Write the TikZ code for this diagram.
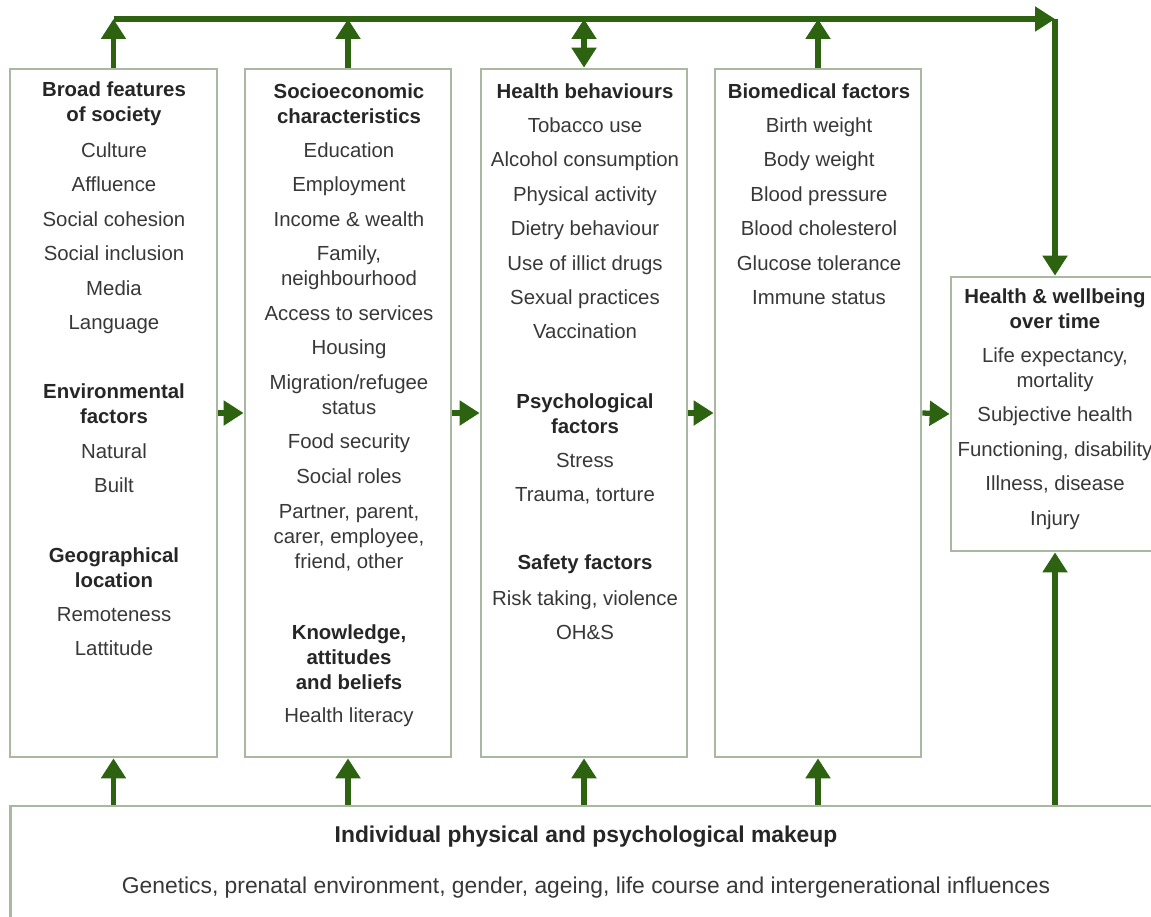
\documentclass[tikz,border=0pt]{standalone}
\usepackage{fontspec}
\setmainfont{Liberation Sans}
\usetikzlibrary{arrows.meta}

\definecolor{flowgreen}{HTML}{2C6210}
\definecolor{panelgrey}{HTML}{A9B9A1}
\definecolor{inktext}{HTML}{383838}

\begin{document}
\begin{tikzpicture}[
        x=0.02cm, y=-0.02cm,
        panel/.style={
            rectangle,
            draw=panelgrey,
            line width=1.6pt,
            inner sep=0pt
        },
        item/.style={
            inner sep=0pt,
            text height=10pt,
            text depth=2pt,
            text=inktext,
            font=\fontsize{11.6}{14.2}\selectfont
        },
        head/.style={
            inner sep=0pt,
            align=center,
            text=black!85,
            font=\fontsize{11.6}{14.2}\selectfont\bfseries
        },
        ptr/.style={
            -{Triangle[width=0.48cm,length=0.4cm]},
            line width=3pt,
            draw=flowgreen
        },
        dptr/.style={
            ptr,
            {Triangle[width=0.48cm,length=0.4cm]}-{Triangle[width=0.48cm,length=0.4cm]}
        }
    ]

    \path[use as bounding box, fill=white] (0,0) rectangle (1151,916);

    % columns
    \node[panel, minimum width=4.14cm, minimum height=13.76cm] (society) at (113.5,413) {};
    \node[panel, minimum width=4.12cm, minimum height=13.76cm] (socio) at (348,413) {};
    \node[panel, minimum width=4.12cm, minimum height=13.76cm] (behav) at (584,413) {};
    \node[panel, minimum width=4.12cm, minimum height=13.76cm] (biomed) at (818,413) {};
    \node[panel, minimum width=4.16cm, minimum height=5.48cm] (wellbeing) at (1055,414) {};
    \node[panel, minimum width=23.2cm, minimum height=2.68cm] (makeup) at (590,873) {};

    % broad features
    \node[head] (broad) at (114,104) {Broad features\\of society};
    \foreach \y/\t in {150/Culture, 184/Affluence, 219/Social cohesion, 253/Social inclusion,
            288/Media, 322/Language, 451/Natural, 485/Built, 614/Remoteness, 648/Lattitude} {
        \node[item] (soc-\y) at (114,\y) {\t};
    }
    \node[head] (env) at (114,404) {Environmental\\factors};
    \node[head] (geo) at (114,567.5) {Geographical\\location};

    % socioeconomic
    \node[head] (seco) at (349,104) {Socioeconomic\\characteristics};
    \foreach \y/\t in {150/Education, 184/Employment, 219/{Income \& wealth}, 253/{Family,},
            278/neighbourhood, 313/Access to services, 347/Housing, 382/{Migration/refugee},
            407/status, 441/Food security, 476/Social roles, 511/{Partner, parent,},
            536/{carer, employee,}, 561/{friend, other}, 715/Health literacy} {
        \node[item] (eco-\y) at (349,\y) {\t};
    }
    \node[head] (know) at (349,657) {Knowledge,\\attitudes\\and beliefs};

    % behaviours
    \node[head] (hbeh) at (585,91) {Health behaviours};
    \foreach \y/\t in {125/Tobacco use, 159/Alcohol consumption, 194/Physical activity,
            228/Dietry behaviour, 263/Use of illict drugs, 297/Sexual practices,
            331/Vaccination, 460/Stress, 494/{Trauma, torture},
            598/{Risk taking, violence}, 632/OH\&S} {
        \node[item] (beh-\y) at (585,\y) {\t};
    }
    \node[head] (psy) at (585,413.5) {Psychological\\factors};
    \node[head] (safe) at (585,564) {Safety factors};

    % biomedical
    \node[head] (bio) at (819,91) {Biomedical factors};
    \foreach \y/\t in {125/Birth weight, 159/Body weight, 194/Blood pressure,
            228/Blood cholesterol, 263/Glucose tolerance, 297/Immune status} {
        \node[item] (bio-\y) at (819,\y) {\t};
    }

    % outcome
    \node[head] (well) at (1055,308.5) {Health \& wellbeing\\over time};
    \foreach \y/\t in {355/{Life expectancy,}, 380/mortality, 414/Subjective health,
            449/{Functioning, disability}, 483/{Illness, disease}, 518/Injury} {
        \node[item] (out-\y) at (1055,\y) {\t};
    }

    % makeup
    \node[head, font=\fontsize{13}{16}\selectfont\bfseries] (indiv) at (586,837)
        {Individual physical and psychological makeup};
    \node[item, font=\fontsize{13}{16}\selectfont] (genes) at (586,886)
        {Genetics, prenatal environment, gender, ageing, life course and intergenerational influences};

    % arrows
    \coordinate (topleft) at (society.north |- 0,19);
    \coordinate (topright) at (wellbeing.north |- 0,19);
    \draw[ptr] (topleft) -- (topright);
    \draw[ptr] (topright) -- (wellbeing.north);
    \foreach \n in {society,socio,biomed} {
        \draw[ptr] (\n.north) -- (\n.north |- topleft);
    }
    \draw[dptr] (behav.north) -- (behav.north |- topleft);

    \foreach \n in {society,socio,behav,biomed,wellbeing} {
        \draw[ptr] (\n.south |- makeup.north) -- (\n.south);
    }

    \draw[ptr] (society.east) -- (socio.west);
    \draw[ptr] (socio.east) -- (behav.west);
    \draw[ptr] (behav.east) -- (biomed.west);
    \draw[ptr] (biomed.east) -- (wellbeing.west);

\end{tikzpicture}
\end{document}
